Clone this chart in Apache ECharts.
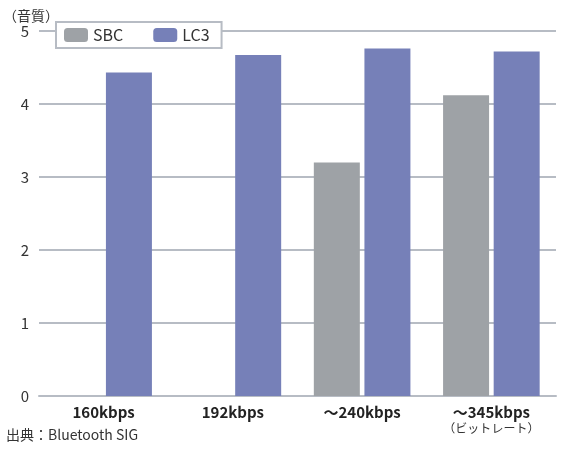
<!DOCTYPE html>
<html><head><meta charset="utf-8">
<script src="https://cdn.jsdelivr.net/npm/echarts@6/dist/echarts.min.js"></script>
<style>html,body{margin:0;background:#fff}#c{width:568px;height:450px}</style>
</head><body><div id="c"></div>
<script>
var categories = ['160kbps', '192kbps', '～240kbps', '～345kbps\n（ビットレート）']
var sbc = [null, null, 3.2, 4.12]
var lc3 = [4.43, 4.67, 4.76, 4.72]
var yTicks = [0, 1, 2, 3, 4, 5]

var font = '"Noto Sans CJK JP", "Noto Sans", sans-serif'
var chart = echarts.init(document.getElementById('c'))
chart.setOption({
	animation: false,
	textStyle: { fontFamily: font },
	grid: { left: 24, right: 12, top: 31, bottom: 54 },
	legend: {
		left: 56, top: 22, itemWidth: 24, itemHeight: 14, itemGap: 30,
		borderColor: '#b7bcc4', borderWidth: 2, padding: [5, 12, 5, 8],
		backgroundColor: '#fff',
		textStyle: { fontSize: 16, color: '#333', fontFamily: font },
		data: ['SBC', 'LC3']
	},
	xAxis: {
		type: 'category', data: categories,
		axisLine: { lineStyle: { color: '#b7bcc4', width: 2 } },
		axisTick: { show: false },
		axisLabel: { interval: 0, fontSize: 15, color: '#222', fontWeight: 'bold', margin: 8, lineHeight: 17,
			formatter: function(v) {
				var p = v.split('\n')
				return p.length > 1 ? p[0] + '\n{s|' + p[1] + '}' : v
			},
			rich: { s: { fontSize: 12, fontWeight: 'normal', color: '#333', lineHeight: 15 } }
		}
	},
	yAxis: {
		type: 'value', min: 0, max: 5, interval: 1,
		name: '（音質）', nameLocation: 'end', nameGap: 8,
		nameTextStyle: { fontSize: 14, color: '#333', align: 'left', padding: [0, 0, 0, -36] },
		axisLine: { show: false }, axisTick: { show: false },
		axisLabel: { fontSize: 15, color: '#333', margin: 10,
			formatter: function(v) { return yTicks.indexOf(v) >= 0 ? v : '' } },
		splitLine: { lineStyle: { color: '#b7bcc4', width: 2 } }
	},
	series: [
		{ name: 'SBC', type: 'bar', data: sbc, barWidth: 46, barGap: '10%', itemStyle: { color: '#9ea2a6' } },
		{ name: 'LC3', type: 'bar', data: lc3, barWidth: 46, itemStyle: { color: '#7680b8' } }
	],
	graphic: [{ type: 'text', left: 6, top: 428,
		style: { text: '出典：Bluetooth SIG', fontSize: 14, fill: '#333', fontFamily: font } }]
})
</script></body></html>
